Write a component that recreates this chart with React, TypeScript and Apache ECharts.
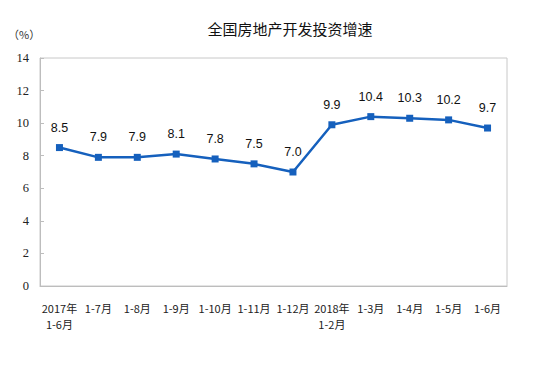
import React, { useEffect, useRef } from "react";
import * as echarts from "echarts";

const categories = ["2017年\n1-6月", "1-7月", "1-8月", "1-9月", "1-10月", "1-11月", "1-12月", "2018年\n1-2月", "1-3月", "1-4月", "1-5月", "1-6月"];
const values = [8.5, 7.9, 7.9, 8.1, 7.8, 7.5, 7.0, 9.9, 10.4, 10.3, 10.2, 9.7];
const yTicks = [0, 2, 4, 6, 8, 10, 12, 14];

export default function App() {
  const ref = useRef<HTMLDivElement>(null);
  useEffect(() => {
    const chart = echarts.init(ref.current!, null, { renderer: "svg" });
    chart.setOption({
      animation: false,
      backgroundColor: "#fff",
      title: {
        text: "全国房地产开发投资增速",
        left: 277,
        top: 8,
        textAlign: "center",
        textStyle: { fontSize: 15, fontWeight: "normal", color: "#111", fontFamily: "Noto Sans CJK SC" },
      },
      graphic: [
        {
          type: "text",
          left: 0,
          top: 20,
          style: { text: "（%）", fontSize: 11, fill: "#333", fontFamily: "Noto Sans CJK SC" },
        },
      ],
      grid: { left: 32, right: 38, top: 50, bottom: 71, show: true, borderColor: "#c8c8c8", borderWidth: 1 },
      xAxis: {
        type: "category",
        data: categories,
        boundaryGap: true,
        axisLine: { lineStyle: { color: "#bdbdbd" } },
        axisTick: { inside: true, length: 4, lineStyle: { color: "#bdbdbd" } },
        axisLabel: { interval: 0, color: "#222", fontSize: 11, lineHeight: 16, margin: 14, fontFamily: "Noto Sans CJK SC" },
      },
      yAxis: {
        type: "value",
        min: 0,
        max: 14,
        interval: 2,
        splitLine: { show: false },
        axisLine: { show: true, lineStyle: { color: "#bdbdbd" } },
        axisTick: { show: true, inside: true, length: 4, lineStyle: { color: "#bdbdbd" } },
        axisLabel: {
          color: "#222",
          fontSize: 12.5,
          margin: 11,
          fontFamily: "Liberation Serif",
          formatter: (v: number) => (yTicks.includes(v) ? String(v) : ""),
        },
      },
      series: [
        {
          type: "line",
          data: values,
          symbol: "rect",
          symbolSize: 7,
          lineStyle: { color: "#1560bd", width: 2.5 },
          itemStyle: { color: "#1560bd" },
          label: {
            show: true,
            position: "top",
            distance: 10,
            fontSize: 12.5,
            color: "#111",
            fontFamily: "Liberation Sans",
            formatter: (p: any) => p.value.toFixed(1),
          },
        },
      ],
    });
    return () => chart.dispose();
  }, []);
  return <div ref={ref} style={{ width: 537, height: 349 }} />;
}
